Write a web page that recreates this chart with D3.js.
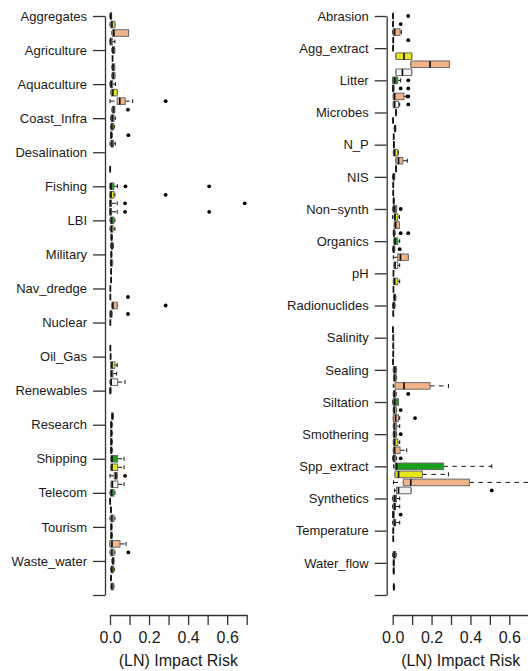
<!DOCTYPE html>
<html>
<head>
<meta charset="utf-8">
<script src="https://cdn.jsdelivr.net/npm/d3@7"></script>
<style>
  html, body { margin: 0; padding: 0; background: #fff; }
  svg text { font-family: "Liberation Sans", Arial, Helvetica, sans-serif; fill: #1a1a1a; }
</style>
</head>
<body>
<svg id="chart" width="528" height="671"></svg>
<script>
// ---- categories -------------------------------------------------------
const activities = ["Aggregates", "Agriculture", "Aquaculture", "Coast_Infra", "Desalination",
  "Fishing", "LBI", "Military", "Nav_dredge", "Nuclear", "Oil_Gas", "Renewables",
  "Research", "Shipping", "Telecom", "Tourism", "Waste_water"];

const pressures = ["Abrasion", "Agg_extract", "Litter", "Microbes", "N_P", "NIS", "Non\u2212synth",
  "Organics", "pH", "Radionuclides", "Salinity", "Sealing", "Siltation", "Smothering",
  "Spp_extract", "Synthetics", "Temperature", "Water_flow"];

const riskTicks = [0, 0.1, 0.2, 0.3, 0.4, 0.5, 0.6, 0.7];
const riskTickLabels = ["0.0", "", "0.2", "", "0.4", "", "0.6", ""];

// Box fills, one per group within each category
const groupFill = ["#18a018", "#e8e817", "#f2b487", "#f2f2f2"];

// ---- activity statistics: [lower whisker, q1, median, q3, upper whisker]
const actGreen = [
  [0, 0.002, 0.004, 0.008, 0.008],
  [0.01, 0.012, 0.016, 0.024, 0.024],
  [0, 0.002, 0.006, 0.014, 0.028],
  [0.004, 0.006, 0.012, 0.02, 0.027],
  null,
  [0, 0, 0.005, 0.02, 0.038],
  [0, 0.004, 0.008, 0.02, 0.025],
  [0.005, 0.006, 0.007, 0.008, 0.009],
  [0.002, 0.002, 0.002, 0.002, 0.002],
  [0.002, 0.002, 0.002, 0.002, 0.002],
  [0.003, 0.003, 0.003, 0.003, 0.003],
  [0, 0, 0.002, 0.004, 0.004],
  [0.003, 0.004, 0.006, 0.01, 0.012],
  [0.005, 0.005, 0.01, 0.039, 0.072],
  [0, 0.004, 0.008, 0.02, 0.025],
  [0.004, 0.005, 0.007, 0.009, 0.01],
  [0.01, 0.012, 0.015, 0.02, 0.02]
];
const actYellow = [
  [0, 0.004, 0.01, 0.025, 0.025],
  [0.013, 0.013, 0.013, 0.013, 0.013],
  [0.005, 0.007, 0.015, 0.037, 0.037],
  [0.004, 0.006, 0.01, 0.018, 0.022],
  null,
  [0, 0, 0.005, 0.02, 0.025],
  [0, 0.004, 0.008, 0.015, 0.025],
  [0.002, 0.004, 0.006, 0.012, 0.014],
  [0.002, 0.002, 0.002, 0.002, 0.002],
  null,
  [0.004, 0.004, 0.01, 0.025, 0.037],
  null,
  [0.003, 0.004, 0.006, 0.01, 0.012],
  [0.005, 0.005, 0.01, 0.039, 0.072],
  [0, 0, 0.001, 0.002, 0.002],
  [0.004, 0.005, 0.007, 0.01, 0.012],
  [0.004, 0.006, 0.01, 0.018, 0.022]
];
const actTan = [
  [0.01, 0.012, 0.02, 0.095, 0.095],
  [0.01, 0.012, 0.016, 0.024, 0.024],
  [0, 0.037, 0.05, 0.078, 0.116],
  [0.003, 0.004, 0.006, 0.01, 0.012],
  [0.001, 0.001, 0.001, 0.001, 0.001],
  [0, 0, 0.002, 0.008, 0.037],
  [0.005, 0.006, 0.008, 0.01, 0.012],
  [0.006, 0.006, 0.006, 0.006, 0.006],
  [0.01, 0.01, 0.015, 0.037, 0.037],
  null,
  [0.004, 0.004, 0.008, 0.015, 0.034],
  null,
  [0.003, 0.004, 0.006, 0.01, 0.012],
  [0, 0.022, 0.03, 0.037, 0.037],
  [0.005, 0.005, 0.005, 0.005, 0.005],
  [0, 0, 0.01, 0.051, 0.082],
  [0.005, 0.005, 0.005, 0.005, 0.005]
];
const actWhite = [
  [0, 0.001, 0.004, 0.012, 0.025],
  [0.01, 0.012, 0.017, 0.025, 0.025],
  [0.01, 0.012, 0.018, 0.024, 0.024],
  [0, 0.005, 0.01, 0.018, 0.027],
  null,
  [0, 0, 0.002, 0.008, 0.037],
  [0.004, 0.006, 0.01, 0.015, 0.018],
  [0.006, 0.006, 0.006, 0.006, 0.006],
  [0, 0, 0.005, 0.01, 0.01],
  [0.002, 0.002, 0.002, 0.002, 0.002],
  [0, 0.004, 0.006, 0.039, 0.077],
  [0.008, 0.009, 0.012, 0.016, 0.018],
  [0.003, 0.004, 0.006, 0.01, 0.012],
  [0.006, 0.006, 0.012, 0.04, 0.072],
  [0, 0.005, 0.01, 0.02, 0.025],
  [0, 0.004, 0.01, 0.02, 0.025],
  [0.005, 0.006, 0.01, 0.018, 0.02]
];
// outlying values: [category, group index, value]
const actOutliers = [
  ["Aquaculture", 2, 0.285], ["Aquaculture", 3, 0.092],
  ["Coast_Infra", 2, 0.094],
  ["Fishing", 0, 0.079], ["Fishing", 0, 0.508],
  ["Fishing", 1, 0.285],
  ["Fishing", 2, 0.077], ["Fishing", 2, 0.69],
  ["Fishing", 3, 0.077], ["Fishing", 3, 0.508],
  ["Nav_dredge", 1, 0.092], ["Nav_dredge", 2, 0.285], ["Nav_dredge", 3, 0.092],
  ["Shipping", 2, 0.077],
  ["Tourism", 3, 0.094]
];

// ---- pressure statistics: [lower whisker, q1, median, q3, upper whisker]
const prsGreen = [
  [0.002, 0.002, 0.002, 0.002, 0.002],
  [0.002, 0.002, 0.002, 0.002, 0.002],
  [0, 0, 0.01, 0.026, 0.041],
  [0.015, 0.016, 0.017, 0.018, 0.019],
  [0.005, 0.005, 0.006, 0.007, 0.007],
  [0, 0.002, 0.005, 0.01, 0.01],
  [0, 0.002, 0.008, 0.02, 0.02],
  [0.007, 0.007, 0.012, 0.026, 0.036],
  [0.004, 0.004, 0.004, 0.004, 0.004],
  [0, 0.002, 0.005, 0.01, 0.012],
  [0.003, 0.003, 0.003, 0.003, 0.003],
  [0.003, 0.004, 0.01, 0.018, 0.02],
  [0, 0.002, 0.01, 0.03, 0.03],
  [0.003, 0.004, 0.008, 0.018, 0.02],
  [0.005, 0.012, 0.02, 0.261, 0.51],
  [0, 0.003, 0.01, 0.02, 0.036],
  [0.003, 0.003, 0.003, 0.003, 0.003],
  [0.003, 0.004, 0.005, 0.007, 0.008]
];
const prsYellow = [
  [0.002, 0.002, 0.002, 0.002, 0.002],
  [0.017, 0.017, 0.058, 0.098, 0.098],
  [0, 0, 0.002, 0.006, 0.006],
  [0.002, 0.002, 0.002, 0.002, 0.002],
  [0.003, 0.005, 0.01, 0.026, 0.03],
  [0.003, 0.003, 0.003, 0.003, 0.003],
  [0, 0.008, 0.012, 0.026, 0.035],
  [0, 0.002, 0.005, 0.01, 0.01],
  [0.003, 0.004, 0.01, 0.026, 0.036],
  [0.003, 0.003, 0.003, 0.003, 0.003],
  [0.003, 0.003, 0.003, 0.003, 0.003],
  [0.005, 0.005, 0.01, 0.018, 0.02],
  [0.003, 0.004, 0.008, 0.018, 0.02],
  [0.003, 0.004, 0.01, 0.026, 0.036],
  [0.012, 0.012, 0.03, 0.153, 0.287],
  [0, 0.005, 0.01, 0.015, 0.036],
  [0.003, 0.003, 0.003, 0.003, 0.003],
  [0.003, 0.004, 0.005, 0.007, 0.008]
];
const prsTan = [
  [0, 0.003, 0.01, 0.038, 0.045],
  [0.094, 0.094, 0.192, 0.292, 0.292],
  [0.003, 0.003, 0.01, 0.058, 0.07],
  [0.008, 0.01, 0.012, 0.015, 0.016],
  [0.017, 0.017, 0.03, 0.052, 0.075],
  [0.003, 0.003, 0.003, 0.003, 0.003],
  [0.008, 0.008, 0.015, 0.035, 0.035],
  [0.003, 0.026, 0.04, 0.08, 0.08],
  [0.004, 0.004, 0.004, 0.004, 0.004],
  null,
  [0.003, 0.003, 0.003, 0.003, 0.003],
  [0.003, 0.012, 0.058, 0.192, 0.287],
  [0.003, 0.003, 0.015, 0.03, 0.036],
  [0.003, 0.004, 0.01, 0.038, 0.072],
  [0.004, 0.055, 0.093, 0.395, 0.72],
  [0, 0, 0.002, 0.008, 0.008],
  null,
  null
];
const prsWhite = [
  [0.003, 0.003, 0.003, 0.003, 0.003],
  [0.017, 0.017, 0.05, 0.098, 0.098],
  [0.003, 0.003, 0.01, 0.03, 0.036],
  [0.005, 0.005, 0.005, 0.005, 0.005],
  [0.015, 0.016, 0.017, 0.018, 0.02],
  [0.003, 0.004, 0.005, 0.007, 0.008],
  [0.003, 0.004, 0.006, 0.01, 0.012],
  [0.007, 0.007, 0.012, 0.026, 0.036],
  [0.005, 0.006, 0.01, 0.014, 0.016],
  [0.001, 0.001, 0.001, 0.001, 0.001],
  [0.002, 0.002, 0.002, 0.002, 0.002],
  [0.003, 0.004, 0.008, 0.015, 0.018],
  [0.003, 0.004, 0.01, 0.02, 0.036],
  [0, 0.003, 0.006, 0.015, 0.02],
  [0.01, 0.02, 0.03, 0.094, 0.094],
  [0, 0.005, 0.01, 0.015, 0.036],
  [0, 0.003, 0.008, 0.015, 0.018],
  [0.003, 0.004, 0.006, 0.008, 0.01]
];
const prsOutliers = [
  ["Abrasion", 0, 0.08], ["Abrasion", 1, 0.041], ["Abrasion", 3, 0.08],
  ["Litter", 0, 0.08], ["Litter", 1, 0.041], ["Litter", 1, 0.08],
  ["Litter", 2, 0.08], ["Litter", 3, 0.08],
  ["Non\u2212synth", 0, 0.041], ["Non\u2212synth", 3, 0.041], ["Non\u2212synth", 3, 0.08],
  ["Organics", 1, 0.036],
  ["Sealing", 3, 0.08],
  ["Siltation", 1, 0.041], ["Siltation", 2, 0.115],
  ["Smothering", 0, 0.041], ["Smothering", 3, 0.041],
  ["Spp_extract", 3, 0.51],
  ["Synthetics", 2, 0.041]
];

// ---- drawing ----------------------------------------------------------
const svg = d3.select("#chart");
const axisColor = "#333";
const boxH = 6.6;

function drawPanel(p) {
  const n = p.categories.length;
  const y = d3.scaleLinear().domain([0, n * 4]).range([16, 595]);
  const x = d3.scaleLinear().domain([0, 0.7]).range(p.xRange);
  const g = svg.append("g");

  // category axis: one tick per category plus a closing tick
  const yAxis = d3.axisLeft(y)
    .tickValues(d3.range(0, n * 4 + 1, 4))
    .tickFormat(d => p.categories[d / 4] || "")
    .tickSize(12).tickSizeOuter(0).tickPadding(6);
  const ya = g.append("g").attr("transform", `translate(${p.axisX},0)`).call(yAxis);
  ya.selectAll(".domain, .tick line").attr("stroke", axisColor).attr("stroke-width", 1.3);
  ya.selectAll("text").attr("font-size", 13).attr("fill", "#1a1a1a");

  // risk axis
  const xAxis = d3.axisBottom(x)
    .tickValues(riskTicks)
    .tickFormat((d, i) => riskTickLabels[i])
    .tickSize(10).tickSizeOuter(0).tickPadding(7);
  const xa = g.append("g").attr("transform", "translate(0,615)").call(xAxis);
  xa.selectAll(".domain, .tick line").attr("stroke", axisColor).attr("stroke-width", 1.3);
  xa.selectAll("text").attr("font-size", 16).attr("fill", "#1a1a1a");

  g.append("text")
    .attr("x", (p.xRange[0] + p.xRange[1]) / 2).attr("y", 666)
    .attr("text-anchor", "middle").attr("font-size", 16)
    .text("(LN) Impact Risk");

  // flatten the group statistics into box records
  const boxes = [];
  p.groups.forEach((arr, s) => {
    arr.forEach((st, c) => {
      if (!st) return;
      boxes.push({ s, c, lo: st[0], q1: st[1], med: st[2], q3: st[3], hi: st[4], yc: y(c * 4 + s) });
    });
  });

  const bg = g.append("g");
  const b = bg.selectAll("g.box").data(boxes).join("g").attr("class", "box");

  // dashed whiskers
  b.append("line")
    .attr("x1", d => x(d.lo)).attr("x2", d => x(d.q1))
    .attr("y1", d => d.yc).attr("y2", d => d.yc)
    .attr("stroke", "#111").attr("stroke-width", 1).attr("stroke-dasharray", "4.5,4.5");
  b.append("line")
    .attr("x1", d => x(d.q3)).attr("x2", d => x(d.hi))
    .attr("y1", d => d.yc).attr("y2", d => d.yc)
    .attr("stroke", "#111").attr("stroke-width", 1).attr("stroke-dasharray", "4.5,4.5");
  // staples
  b.selectAll("line.staple").data(d => [d.lo, d.hi].map(v => ({ v, yc: d.yc })))
    .join("line").attr("class", "staple")
    .attr("x1", d => x(d.v)).attr("x2", d => x(d.v))
    .attr("y1", d => d.yc - boxH * 0.3).attr("y2", d => d.yc + boxH * 0.3)
    .attr("stroke", "#111").attr("stroke-width", 1);
  // box
  b.append("rect")
    .attr("x", d => x(d.q1)).attr("width", d => Math.max(0, x(d.q3) - x(d.q1)))
    .attr("y", d => d.yc - boxH / 2).attr("height", boxH)
    .attr("fill", d => groupFill[d.s])
    .attr("stroke", "#6a6a6a").attr("stroke-width", 1);
  // median
  b.append("line")
    .attr("x1", d => x(d.med)).attr("x2", d => x(d.med))
    .attr("y1", d => d.yc - boxH / 2).attr("y2", d => d.yc + boxH / 2)
    .attr("stroke", "#111").attr("stroke-width", 1.7);

  // outliers
  g.append("g").selectAll("circle").data(p.outliers).join("circle")
    .attr("cx", d => x(d[2]))
    .attr("cy", d => y(p.categories.indexOf(d[0]) * 4 + d[1]))
    .attr("r", 1.9).attr("fill", "#000");
}

drawPanel({
  categories: activities,
  groups: [actGreen, actYellow, actTan, actWhite],
  outliers: actOutliers,
  axisX: 105,
  xRange: [110, 246.7]
});

drawPanel({
  categories: pressures,
  groups: [prsGreen, prsYellow, prsTan, prsWhite],
  outliers: prsOutliers,
  axisX: 386.7,
  xRange: [392.7, 528.7]
});
</script>
</body>
</html>
